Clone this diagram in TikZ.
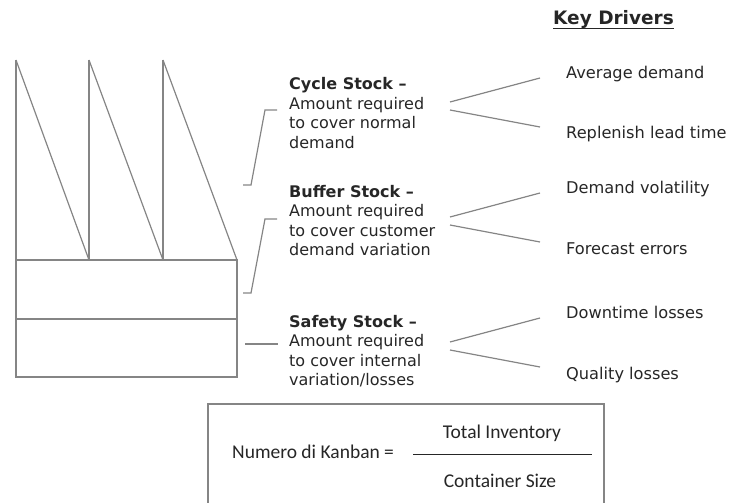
\documentclass[tikz,border=0pt]{standalone}
\usepackage{fontspec}
\setmainfont{DejaVu Sans}
\newfontfamily\formulafont{Carlito}
\definecolor{linegray}{HTML}{858585}
\definecolor{ink}{HTML}{262626}
% stacked lines whose baseline is the first line's baseline
\newcommand\linestack[1]{\vtop{\baselineskip=19.5pt\lineskiplimit=-20pt #1}}
\begin{document}
\begin{tikzpicture}[x=1pt,y=-1pt,
  wire/.style={draw=linegray, line width=1.2pt},
  body/.style={inner sep=0pt, anchor=base west, text=ink, font=\fontsize{16}{19.5}\selectfont},
  driver/.style={inner sep=0pt, anchor=base west, text=ink, font=\fontsize{16.2}{19.5}\selectfont},
  formula/.style={inner sep=0pt, anchor=base, text=ink, font=\formulafont\fontsize{19.5}{22}\selectfont}]
\useasboundingbox (0,0) rectangle (729,503);

% inventory profile: saw-tooth cycle stock above buffer and safety layers
\draw[wire] (16,260) rectangle (237,377);
\draw[wire] (16,319) -- (237,319);
\draw[wire] (16,60) -- (16,260);
\draw[wire] (89,60) -- (89,260);
\draw[wire] (163,60) -- (163,260);
\draw[wire] (16,60) -- (89,260);
\draw[wire] (89,60) -- (163,260);
\draw[wire] (163,60) -- (237,260);

% brackets tying each layer to its description
\coordinate (c1a) at (277,110); \coordinate (c1b) at (265,110);
\coordinate (c1c) at (251,185); \coordinate (c1d) at (243,185);
\draw[wire] (c1a) -- (c1b) -- (c1c) -- (c1d);
\coordinate (c2a) at (277,219); \coordinate (c2b) at (265,219);
\coordinate (c2c) at (251,293); \coordinate (c2d) at (243,293);
\draw[wire] (c2a) -- (c2b) -- (c2c) -- (c2d);
\coordinate (c3a) at (245,344); \coordinate (c3b) at (278,344);
\draw[wire] (c3a) -- (c3b);

% stock descriptions
\node[body] (cycle) at (289,90) {\linestack{\hbox{\bfseries Cycle Stock –}\hbox{Amount required}\hbox{to cover normal}\hbox{demand}}};
\node[body] (buffer) at (289,197) {\linestack{\hbox{\bfseries Buffer Stock –}\hbox{Amount required}\hbox{to cover customer}\hbox{demand variation}}};
\node[body] (safety) at (289,327) {\linestack{\hbox{\bfseries Safety Stock –}\hbox{Amount required}\hbox{to cover internal}\hbox{variation/losses}}};

% key drivers heading
\node[inner sep=0pt, anchor=base west, text=ink, font=\bfseries\fontsize{18.5}{22}\selectfont] (kd) at (553,25) {Key Drivers};
\draw[ink, line width=1.6pt] ([yshift=-3.5pt]kd.base west) -- ([yshift=-3.5pt]kd.base east);

% drivers
\node[driver] (d1) at (566,78) {Average demand};
\node[driver] (d2) at (566,139) {Replenish lead time};
\node[driver] (d3) at (566,193) {Demand volatility};
\node[driver] (d4) at (566,254) {Forecast errors};
\node[driver] (d5) at (566,318) {Downtime losses};
\node[driver] (d6) at (566,379) {Quality losses};

% fork connectors from each stock to its drivers
\coordinate (f1u) at (450,102); \coordinate (f1l) at (450,110);
\coordinate (e1) at (540,78);   \coordinate (e2) at (540,127);
\draw[wire] (f1u) -- (e1);
\draw[wire] (f1l) -- (e2);
\coordinate (f2u) at (450,217); \coordinate (f2l) at (450,225);
\coordinate (e3) at (540,193);  \coordinate (e4) at (540,242);
\draw[wire] (f2u) -- (e3);
\draw[wire] (f2l) -- (e4);
\coordinate (f3u) at (450,342); \coordinate (f3l) at (450,350);
\coordinate (e5) at (540,318);  \coordinate (e6) at (540,367);
\draw[wire] (f3u) -- (e5);
\draw[wire] (f3l) -- (e6);

% kanban formula box
\coordinate (b1) at (208,510); \coordinate (b2) at (208,404);
\coordinate (b3) at (604,404); \coordinate (b4) at (604,510);
\draw[wire] (b1) -- (b2) -- (b3) -- (b4);
\node[formula, anchor=base west] (num) at (232,458) {Numero di Kanban =};
\node[formula] (tot) at (502,438) {Total Inventory};
\node[formula] (con) at (500,487) {Container Size};
\coordinate (fr1) at (413,454); \coordinate (fr2) at (592,454);
\draw[ink, line width=1pt] (fr1) -- (fr2);
\end{tikzpicture}
\end{document}
